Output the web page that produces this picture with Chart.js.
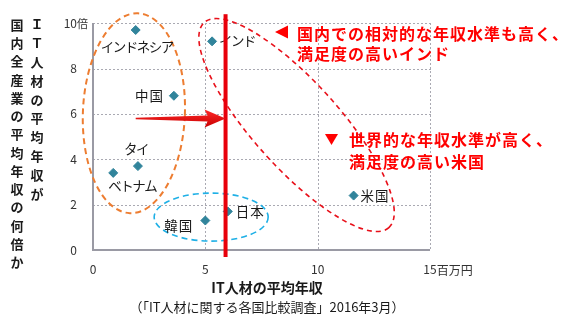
<!DOCTYPE html>
<html lang="ja">
<head>
<meta charset="utf-8">
<script src="https://cdn.jsdelivr.net/npm/chart.js@4.4.1/dist/chart.umd.min.js"></script>
<style>
  html, body { margin: 0; padding: 0; background: #fff; }
  #wrap { width: 567px; height: 325px; position: relative; }
</style>
</head>
<body>
<div id="wrap"><canvas id="c" width="567" height="325"></canvas></div>
<script>
// 国別：IT人材の平均年収（百万円）と、国内全産業の平均年収に対する倍率
const countries   = ['インドネシア', 'インド', '中国', 'タイ', 'ベトナム', '米国', '日本', '韓国'];
const itSalary    = [1.9, 5.3, 3.6, 2.0, 0.9, 11.6, 6.0, 5.0];
const salaryRatio = [9.7, 9.2, 6.8, 3.7, 3.4, 2.4, 1.7, 1.3];

const xTicks = [0, 5, 10, 15];
const yTicks = [0, 2, 4, 6, 8, 10];
const xUnit = '百万円';
const yUnit = '倍';

// 平均年収ライン と 矢印
const averageSalary = 5.9;
const arrowFrom = 1.9;
const arrowLevel = 5.8;

const xTitle = 'IT人材の平均年収';
const sourceNote = '（「IT人材に関する各国比較調査」2016年3月）';
const yTitleRight = 'ＩＴ人材の平均年収が';
const yTitleLeft = '国内全産業の平均年収の何倍か';

const noteIndia = ['国内での相対的な年収水準も高く、', '満足度の高いインド'];
const noteUS = ['世界的な年収水準が高く、', '満足度の高い米国'];

// --- styles / placement ---
const JP = '"Noto Sans CJK JP", "Noto Sans", sans-serif';
const RED = '#ff0000';
const GRID = '#a9a9b2';
const AXIS = '#9a9aa4';
const labelPlacement = {
  'インドネシア': { dx: 1, dy: 17, align: 'center', kana: true },
  'インド':       { dx: 7, dy: 0, align: 'left', kana: true },
  '中国':         { dx: -10, dy: 0, align: 'right' },
  'タイ':         { dx: -2, dy: -17, align: 'center', kana: true },
  'ベトナム':     { dx: -5, dy: 13, align: 'left', kana: true },
  '米国':         { dx: 7, dy: 0, align: 'left' },
  '日本':         { dx: 8, dy: 0, align: 'left' },
  '韓国':         { dx: -12, dy: 5, align: 'right' }
};
// group ellipses: centre in data units, radii in px
const groupRings = [
  { cx: 1.82, cy: 6.03, rx: 51, ry: 100, rot: 0.04, color: '#ed7d31', width: 2, dash: [6, 4] },
  { cx: 9.06, cy: 5.51, rx: 138, ry: 43, rot: 48 * Math.PI / 180, color: '#e8101a', width: 1.6, dash: [5, 4] },
  { cx: 5.26, cy: 1.45, rx: 57, ry: 24, rot: 0, color: '#1fb0e6', width: 1.6, dash: [6, 4] }
];

// dotted grid and solid axes of the plot area
function drawFrame(chart) {
  const { ctx, chartArea: area, scales: { x, y } } = chart;
  const L = Math.round(area.left), R = Math.round(area.right);
  const T = Math.round(area.top), B = Math.round(area.bottom);
  ctx.save();
  ctx.fillStyle = GRID;
  yTicks.filter(v => v !== 0).forEach(v => {
    const py = Math.round(y.getPixelForValue(v));
    for (let px = L; px < R; px += 4) ctx.fillRect(px, py, 2, 1);
  });
  xTicks.filter(v => v !== 0).forEach(v => {
    const px = Math.round(x.getPixelForValue(v));
    for (let py = T; py < B; py += 4) ctx.fillRect(px, py, 1, 2);
  });
  ctx.fillStyle = AXIS;
  const x0 = Math.round(x.getPixelForValue(0)), y0 = Math.round(y.getPixelForValue(0));
  ctx.fillRect(x0 - 1, T, 2, y0 - T + 1);
  ctx.fillRect(x0 - 1, y0 - 1, R - x0 + 1, 2);
  ctx.restore();
}

const overlay = {
  id: 'overlay',
  beforeDatasetsDraw(chart) {
    drawFrame(chart);
  },
  afterDatasetsDraw(chart) {
    const { ctx, chartArea: area, scales: { x, y } } = chart;
    ctx.save();

    // group rings
    groupRings.forEach(r => {
      ctx.save();
      ctx.strokeStyle = r.color;
      ctx.lineWidth = r.width;
      ctx.setLineDash(r.dash);
      ctx.beginPath();
      ctx.ellipse(x.getPixelForValue(r.cx), y.getPixelForValue(r.cy), r.rx, r.ry, r.rot, 0, Math.PI * 2);
      ctx.stroke();
      ctx.restore();
    });

    // country labels
    const meta = chart.getDatasetMeta(0);
    ctx.fillStyle = '#1a1a1a';
    ctx.textBaseline = 'middle';
    meta.data.forEach((pt, i) => {
      const p = labelPlacement[countries[i]];
      ctx.font = '13.5px ' + JP;
      ctx.letterSpacing = p.kana ? '-1.5px' : '1px';
      ctx.textAlign = p.align;
      ctx.fillText(countries[i], pt.x + p.dx, pt.y + p.dy);
    });

    // notes
    ctx.fillStyle = RED;
    ctx.font = 'bold 16px ' + JP;
    ctx.letterSpacing = '1px';
    ctx.textAlign = 'left';
    ctx.fillText(noteIndia[0], 297, 34);
    ctx.fillText(noteIndia[1], 297, 54);
    ctx.fillText(noteUS[0], 349, 140);
    ctx.fillText(noteUS[1], 349, 162);
    ctx.letterSpacing = '0px';
    // triangle markers
    ctx.beginPath();
    ctx.moveTo(275, 32); ctx.lineTo(288, 25.5); ctx.lineTo(288, 38.5); ctx.closePath();
    ctx.fill();
    ctx.beginPath();
    ctx.moveTo(325, 134); ctx.lineTo(338, 134); ctx.lineTo(331.5, 145); ctx.closePath();
    ctx.fill();

    // average salary line
    const ax = x.getPixelForValue(averageSalary);
    ctx.fillStyle = '#e8000b';
    ctx.fillRect(ax - 2, area.top - 9, 4, area.bottom - area.top + 16);

    // arrow pointing to the average line
    const x0 = x.getPixelForValue(arrowFrom);
    const ay = y.getPixelForValue(arrowLevel);
    const headLen = 18, headHalf = 9;
    const grad = ctx.createLinearGradient(0, ay - headHalf, 0, ay + headHalf);
    grad.addColorStop(0, '#ff2a2a');
    grad.addColorStop(1, '#c80000');
    ctx.fillStyle = grad;
    ctx.beginPath();
    ctx.moveTo(x0, ay - 0.8);
    ctx.lineTo(ax - headLen, ay - 3);
    ctx.lineTo(ax - headLen - 3, ay - headHalf);
    ctx.lineTo(ax, ay);
    ctx.lineTo(ax - headLen - 3, ay + headHalf);
    ctx.lineTo(ax - headLen, ay + 3);
    ctx.lineTo(x0, ay + 0.8);
    ctx.closePath();
    ctx.fill();

    ctx.restore();
  },
  afterDraw(chart) {
    const { ctx, chartArea: area, scales: { x, y } } = chart;
    ctx.save();
    ctx.fillStyle = '#333';
    ctx.textBaseline = 'middle';

    // unit suffixes
    ctx.font = '12px ' + JP;
    const lastX = xTicks[xTicks.length - 1];
    const w15 = ctx.measureText(String(lastX)).width;
    ctx.textAlign = 'left';
    ctx.fillText(xUnit, x.getPixelForValue(lastX) + w15 / 2, area.bottom + 20);
    ctx.font = '11px ' + JP;
    ctx.fillText(yUnit, area.left - 16, y.getPixelForValue(yTicks[yTicks.length - 1]) + 1);

    // axis titles
    ctx.fillStyle = '#1a1a1a';
    ctx.textAlign = 'center';
    ctx.font = 'bold 14px ' + JP;
    ctx.fillText(xTitle, 267, 288);
    ctx.font = '13px ' + JP;
    ctx.fillText(sourceNote, 267, 307);

    // vertical y-axis title (two columns, read right to left)
    ctx.font = 'bold 13px ' + JP;
    [...yTitleRight].forEach((ch, i) => ctx.fillText(ch, 37, 24 + i * 18.9));
    [...yTitleLeft].forEach((ch, i) => ctx.fillText(ch, 17, 25 + i * 18.25));
    ctx.restore();
  }
};

new Chart(document.getElementById('c'), {
  type: 'scatter',
  data: {
    datasets: [{
      data: itSalary.map((v, i) => ({ x: v, y: salaryRatio[i] })),
      backgroundColor: '#31849b',
      borderColor: '#31849b',
      pointStyle: 'rectRot',
      pointRadius: 4.5,
      pointHoverRadius: 4.5
    }]
  },
  options: {
    responsive: false,
    animation: false,
    events: [],
    layout: { padding: { left: 53, right: 137, top: 16, bottom: 45 } },
    plugins: { legend: { display: false }, tooltip: { enabled: false } },
    scales: {
      x: {
        type: 'linear', min: xTicks[0], max: xTicks[xTicks.length - 1],
        afterBuildTicks: s => { s.ticks = xTicks.map(v => ({ value: v })); },
        afterFit: s => { s.height = 30; },
        ticks: { color: '#333', font: { size: 12, family: JP }, padding: 12, maxRotation: 0 },
        grid: { display: false, drawTicks: false },
        border: { display: false }
      },
      y: {
        type: 'linear', min: yTicks[0], max: yTicks[yTicks.length - 1],
        afterBuildTicks: s => { s.ticks = yTicks.map(v => ({ value: v })); },
        afterFit: s => { s.width = 40; },
        ticks: { color: '#333', font: { size: 12, family: JP }, padding: 16 },
        grid: { display: false, drawTicks: false },
        border: { display: false }
      }
    }
  },
  plugins: [overlay]
});
</script>
</body>
</html>
